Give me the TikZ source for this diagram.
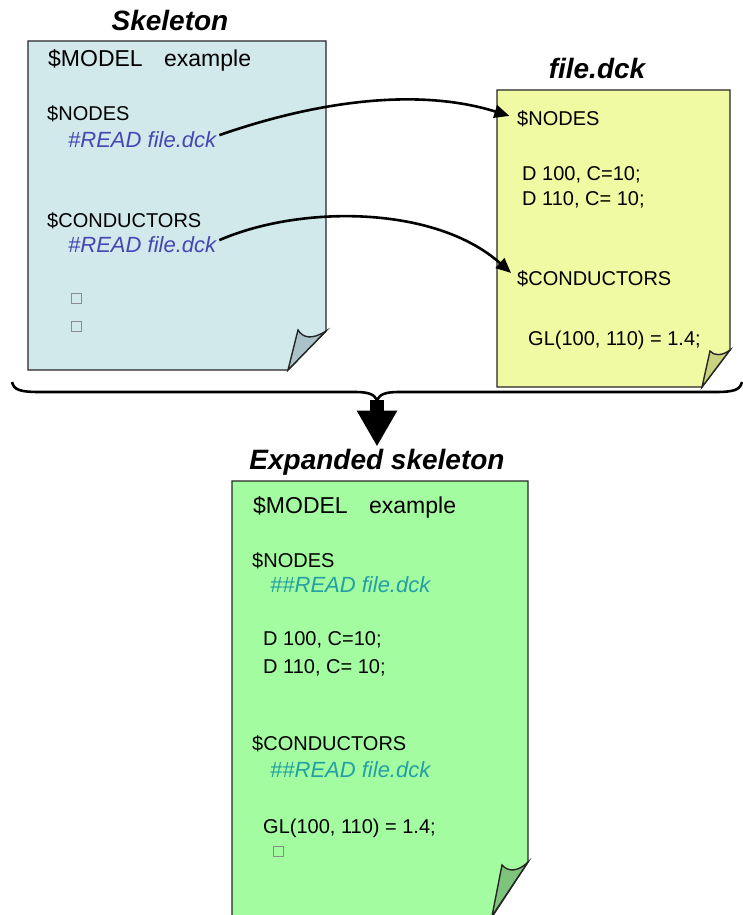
\documentclass[tikz,border=0pt]{standalone}
\usepackage{fontspec}
\setmainfont{Liberation Sans}
\usetikzlibrary{arrows.meta}
\definecolor{skelfill}{HTML}{D2E9EC}
\definecolor{skelflap}{HTML}{A9C3C8}
\definecolor{dckfill}{HTML}{F0FAA2}
\definecolor{dckflap}{HTML}{C9D27E}
\definecolor{expfill}{HTML}{A4FCA0}
\definecolor{expflap}{HTML}{7FC47C}
\definecolor{readblue}{HTML}{4646B4}
\definecolor{readteal}{HTML}{23A0A5}
\tikzset{
  page/.style={draw=black!85,line width=1.4pt},
  txt/.style={anchor=base west,inner sep=0pt,font=\fontsize{20}{24}\selectfont},
  bigtxt/.style={txt,font=\fontsize{23}{27}\selectfont},
  readtxt/.style={txt,font=\fontsize{22}{26}\selectfont\itshape,text=readblue},
  title/.style={anchor=base,inner sep=0pt,font=\fontsize{28}{32}\selectfont\bfseries\itshape},
  sq/.style={draw=black!45,line width=0.8pt,minimum size=10pt,inner sep=0pt},
  link/.style={line width=2.6pt,-{Triangle[length=15pt,width=13pt]},shorten >=8pt}
}
\begin{document}
\begin{tikzpicture}[x=1pt,y=-1pt]
\useasboundingbox(0,0)rectangle(743,915);
\clip(0,0)rectangle(743,915);
% skeleton
\filldraw[page,fill=skelfill](28,41)--(326,41)--(326,331)--(288,370)--(28,370)--cycle;
\filldraw[page,fill=skelflap](288,370)--(298,330)..controls(303,338)and(312,340)..(326,331)--cycle;
\node[title](sktitle)at(170,31){Skeleton};
\node[bigtxt](skmodel)at(48,67){\$MODEL\hspace{15pt} example};
\node[txt](sknodes)at(47,121){\$NODES};
\node[readtxt](skread1)at(68,147){\#READ file.dck};
\node[txt](skcond)at(47,227){\$CONDUCTORS};
\node[readtxt](skread2)at(68,252){\#READ file.dck};
\node[sq](sksq1)at(76,298){};
\node[sq](sksq2)at(76,326){};
% file.dck
\filldraw[page,fill=dckfill](497,90)--(730,90)--(730,350)--(702,387)--(497,387)--cycle;
\filldraw[page,fill=dckflap](702,387)--(710,351)..controls(714,356)and(722,356)..(730,350)--cycle;
\node[title](fltitle)at(597,79){file.dck};
\node[txt](flnodes)at(517,125){\$NODES};
\node[txt](flnd1)at(522,180){D 100, C=10;};
\node[txt](flnd2)at(522,205){D 110, C= 10;};
\node[txt](flcond)at(517,285){\$CONDUCTORS};
\node[txt](flgl)at(528,345){GL(100, 110) = 1.4;};
\draw[link]([shift={(3,-4)}]skread1.east)..controls(320,100)and(420,88)..(flnodes.west);
\draw[link]([shift={(3,-4)}]skread2.east)..controls(300,205)and(435,205)..(flcond.west);
% brace
\draw[line width=2.6pt](12,382)..controls(14,390)and(20,392)..(40,392)--(355,392)
  ..controls(368,392)and(374,394)..(377,400)coordinate(brtip)
  ..controls(380,394)and(386,392)..(399,392)--(715,392)..controls(734,392)and(740,390)..(742,382);
% expanded skeleton
\filldraw[page,fill=expfill](232,481)--(528,481)--(528,862)--(490,920)--(232,920)--cycle;
\filldraw[page,fill=expflap](492,916)--(502,865)..controls(508,872)and(518,872)..(528,862)--cycle;
\node[title](extitle)at(377,469){Expanded skeleton};
\draw[line width=14pt,-{Triangle[length=36pt,width=38pt]},shorten >=2pt](brtip)--(extitle.north);
\node[bigtxt](exmodel)at(253,513){\$MODEL\hspace{15pt} example};
\node[txt](exnodes)at(252,567){\$NODES};
\node[readtxt,text=readteal](exread1)at(270,592){\#\#READ file.dck};
\node[txt](exnd1)at(263,645){D 100, C=10;};
\node[txt](exnd2)at(263,673){D 110, C= 10;};
\node[txt](excond)at(252,750){\$CONDUCTORS};
\node[readtxt,text=readteal](exread2)at(270,777){\#\#READ file.dck};
\node[txt](exgl)at(263,833){GL(100, 110) = 1.4;};
\node[sq](exsq)at(278,851){};
\end{tikzpicture}
\end{document}
